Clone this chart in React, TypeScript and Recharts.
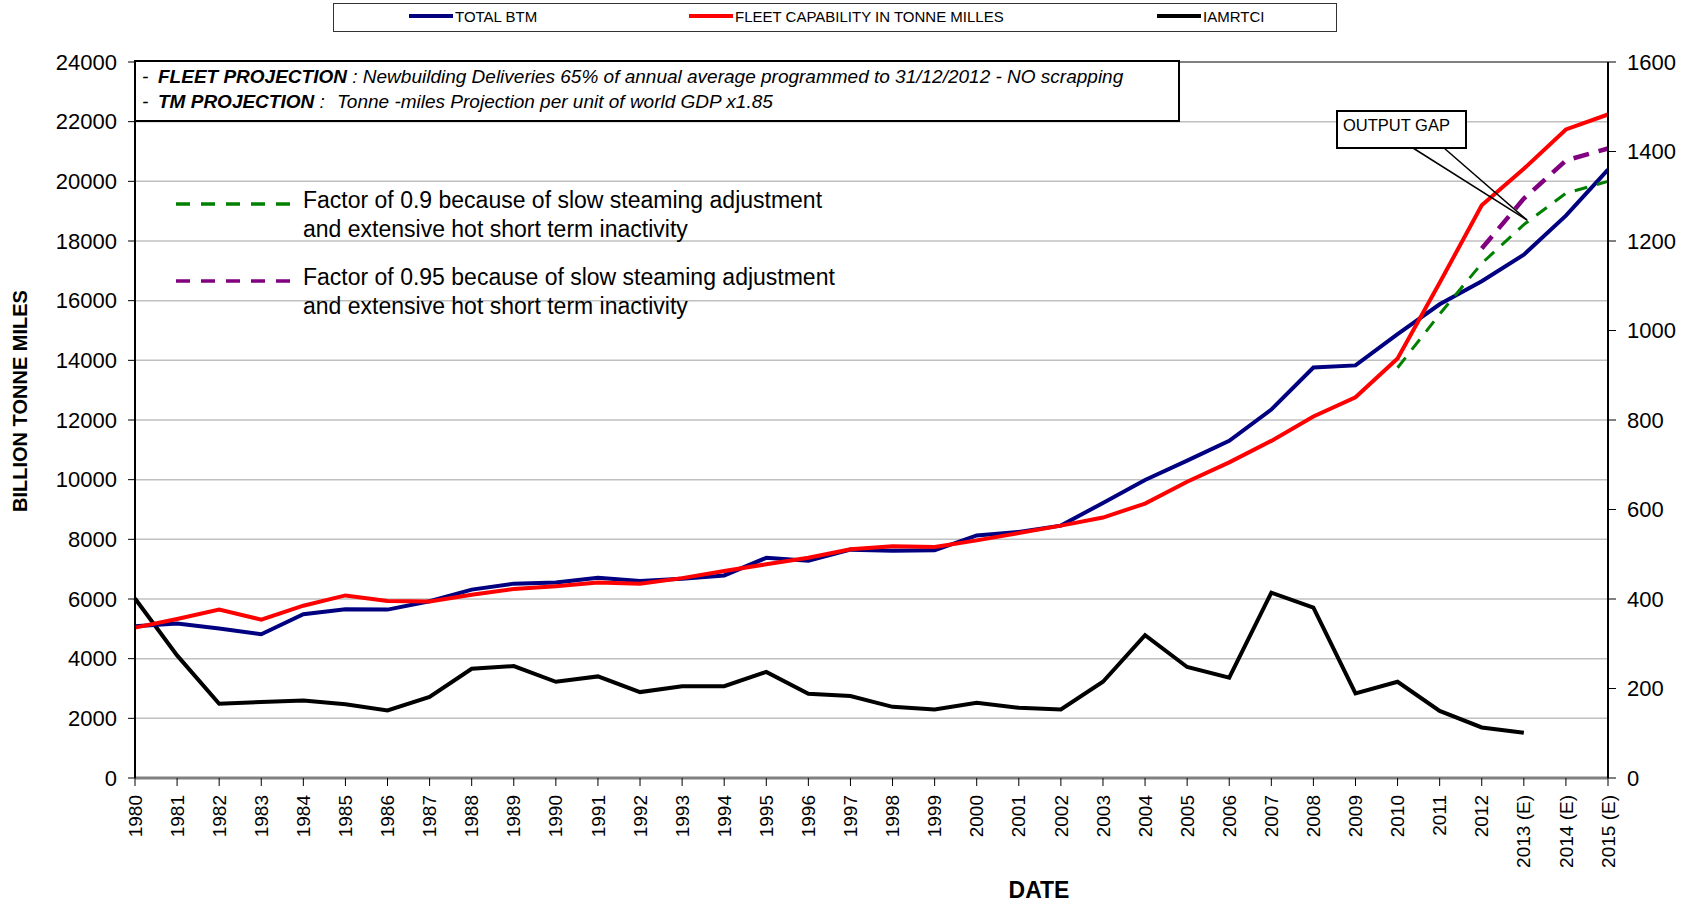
import { LineChart, Line, XAxis, YAxis, CartesianGrid, ReferenceLine } from "recharts";

const FONT = "'Liberation Sans', Arial, sans-serif";

const YEARS = [
  "1980", "1981", "1982", "1983", "1984", "1985", "1986", "1987", "1988", "1989",
  "1990", "1991", "1992", "1993", "1994", "1995", "1996", "1997", "1998", "1999",
  "2000", "2001", "2002", "2003", "2004", "2005", "2006", "2007", "2008", "2009",
  "2010", "2011", "2012", "2013 (E)", "2014 (E)", "2015 (E)",
];

// billion tonne miles (left axis)
const TOTAL_BTM = [
  5090, 5180, 5010, 4820, 5490, 5660, 5645, 5925, 6315, 6515,
  6550, 6715, 6600, 6680, 6790, 7380, 7280, 7655, 7620, 7630,
  8130, 8250, 8460, 9220, 9990, 10640, 11300, 12350, 13760, 13830,
  14880, 15880, 16650, 17540, 18850, 20390,
];

const FLEET_CAPABILITY = [
  5040, 5330, 5645, 5310, 5775, 6120, 5930, 5920, 6145, 6335,
  6425, 6550, 6515, 6700, 6940, 7165, 7385, 7670, 7765, 7740,
  7965, 8210, 8460, 8730, 9200, 9930, 10580, 11300, 12120, 12760,
  14065, 16600, 19195, 20420, 21740, 22240,
];

// index on the right axis
const IAMRTCI = [
  401, 274, 166, 170, 173, 165, 151, 181, 244, 250,
  215, 227, 192, 205, 205, 237, 188, 183, 159, 153,
  168, 157, 153, 215, 319, 248, 224, 414, 381, 189,
  215, 150, 113, 101, null, null,
];

// capability adjusted for slow steaming / hot lay-up
const FACTOR_090 = [
  null, null, null, null, null, null, null, null, null, null,
  null, null, null, null, null, null, null, null, null, null,
  null, null, null, null, null, null, null, null, null, null,
  13750, 15550, 17250, 18550, 19600, 20000,
];

const FACTOR_095 = [
  null, null, null, null, null, null, null, null, null, null,
  null, null, null, null, null, null, null, null, null, null,
  null, null, null, null, null, null, null, null, null, null,
  null, null, 17750, 19420, 20700, 21100,
];

const LEFT_TICKS = [0, 2000, 4000, 6000, 8000, 10000, 12000, 14000, 16000, 18000, 20000, 22000, 24000];
const RIGHT_TICKS = [0, 200, 400, 600, 800, 1000, 1200, 1400, 1600];

const SERIES_NAMES = ["TOTAL BTM", "FLEET CAPABILITY IN TONNE MILLES", "IAMRTCI"];
const SERIES_COLORS = ["#000080", "#ff0000", "#000000"];
const KEY_X = [409, 689, 1157];

const FACTOR_NOTES = [
  ["Factor of 0.9 because of slow steaming adjustment", "and extensive hot short term inactivity"],
  ["Factor of 0.95 because of slow steaming adjustment", "and extensive hot short term inactivity"],
];

const data = YEARS.map((year, i) => ({
  year,
  btm: TOTAL_BTM[i],
  fleet: FLEET_CAPABILITY[i],
  iamrtci: IAMRTCI[i],
  f90: FACTOR_090[i],
  f95: FACTOR_095[i],
}));

function YearTick(props: any) {
  const { x, y, payload } = props;
  return (
    <text
      x={x}
      y={y}
      transform={`rotate(-90, ${x}, ${y})`}
      textAnchor="end"
      dy="0.35em"
      fontSize={19}
      fontFamily={FONT}
      fill="#000"
    >
      {payload.value}
    </text>
  );
}

function Overlay() {
  return (
    <svg
      width={1696}
      height={903}
      style={{ position: "absolute", left: 0, top: 0, pointerEvents: "none" }}
      fontFamily={FONT}
    >
      {/* series key */}
      <rect x={333.5} y={3.5} width={1003} height={28} fill="#fff" stroke="#333" />
      {SERIES_NAMES.map((name, i) => (
        <g key={name}>
          <line x1={KEY_X[i]} x2={KEY_X[i] + 44} y1={16} y2={16} stroke={SERIES_COLORS[i]} strokeWidth={4} />
          <text x={KEY_X[i] + 46} y={21.5} fontSize={15} fill="#000">
            {name}
          </text>
        </g>
      ))}

      {/* projection notes */}
      <rect x={135} y={61} width={1044} height={60} fill="#fff" stroke="#000" strokeWidth={2} />
      <text y={83} fontSize={19} fontStyle="italic" fill="#000">
        <tspan x={142}>-</tspan>
        <tspan x={158} fontWeight="bold">FLEET PROJECTION</tspan>
        <tspan> : Newbuilding Deliveries 65% of annual average programmed to 31/12/2012 - NO scrapping</tspan>
      </text>
      <text y={108} fontSize={19} fontStyle="italic" fill="#000">
        <tspan x={142}>-</tspan>
        <tspan x={158} fontWeight="bold">TM PROJECTION</tspan>
        <tspan> :</tspan>
        <tspan x={337}>Tonne -miles Projection per unit of world GDP x1.85</tspan>
      </text>

      {/* dashed series notes */}
      {FACTOR_NOTES.map((lines, i) => {
        const top = i === 0 ? 208 : 285;
        return (
          <g key={i}>
            <line
              x1={176}
              x2={291}
              y1={top - 4}
              y2={top - 4}
              stroke={i === 0 ? "#008000" : "#800080"}
              strokeWidth={3.5}
              strokeDasharray="14 11"
            />
            <text x={303} y={top} fontSize={23} fill="#000">
              {lines[0]}
            </text>
            <text x={303} y={top + 28.5} fontSize={23} fill="#000">
              {lines[1]}
            </text>
          </g>
        );
      })}

      {/* output gap callout */}
      <line x1={1413} y1={148} x2={1527} y2={220} stroke="#000" strokeWidth={1.5} />
      <line x1={1444} y1={148} x2={1527} y2={220} stroke="#000" strokeWidth={1.5} />
      <rect x={1337} y={111} width={129} height={37} fill="#fff" stroke="#000" strokeWidth={2} />
      <text x={1343} y={131} fontSize={16.5} fill="#000">
        OUTPUT GAP
      </text>

      {/* axis titles */}
      <text
        x={20}
        y={401}
        transform="rotate(-90, 20, 401)"
        textAnchor="middle"
        dy="0.35em"
        fontSize={20}
        fontWeight="bold"
        fill="#000"
      >
        BILLION TONNE MILES
      </text>
      <text x={1039} y={898} textAnchor="middle" fontSize={23} fontWeight="bold" fill="#000">
        DATE
      </text>
    </svg>
  );
}

export default function App() {
  return (
    <div
      style={{
        position: "absolute",
        left: 0,
        top: 0,
        width: 1696,
        height: 903,
        background: "#fff",
        fontFamily: FONT,
      }}
    >
      <LineChart width={1696} height={903} data={data} margin={{ top: 62, right: 0, bottom: 0, left: 0 }}>
        <CartesianGrid yAxisId="left" vertical={false} stroke="#c0c0c0" strokeWidth={1.5} />
        <XAxis
          dataKey="year"
          scale="point"
          padding={{ left: 0, right: 0 }}
          interval={0}
          height={125}
          tick={<YearTick />}
          tickSize={8}
          tickMargin={9}
          tickLine={{ stroke: "#000" }}
          axisLine={{ stroke: "#808080", strokeWidth: 3 }}
        />
        <YAxis
          yAxisId="left"
          width={135}
          domain={[0, 24000]}
          ticks={LEFT_TICKS}
          interval={0}
          tickSize={7}
          tickMargin={11}
          tick={{ fontSize: 22, fill: "#000", fontFamily: FONT }}
          tickLine={{ stroke: "#000" }}
          axisLine={{ stroke: "#000", strokeWidth: 2 }}
        />
        <YAxis
          yAxisId="right"
          orientation="right"
          width={88}
          domain={[0, 1600]}
          ticks={RIGHT_TICKS}
          interval={0}
          tickSize={8}
          tickMargin={11}
          tick={{ fontSize: 22, fill: "#000", fontFamily: FONT }}
          tickLine={{ stroke: "#000" }}
          axisLine={{ stroke: "#000", strokeWidth: 2 }}
        />
        <ReferenceLine yAxisId="left" y={24000} stroke="#808080" strokeWidth={2} />
        <Line
          yAxisId="right"
          dataKey="iamrtci"
          stroke="#000"
          strokeWidth={4}
          dot={false}
          activeDot={false}
          isAnimationActive={false}
        />
        <Line
          yAxisId="left"
          dataKey="btm"
          stroke="#000080"
          strokeWidth={4}
          dot={false}
          activeDot={false}
          isAnimationActive={false}
        />
        <Line
          yAxisId="left"
          dataKey="fleet"
          stroke="#ff0000"
          strokeWidth={4}
          dot={false}
          activeDot={false}
          isAnimationActive={false}
        />
        <Line
          yAxisId="left"
          dataKey="f90"
          stroke="#008000"
          strokeWidth={3}
          strokeDasharray="13 10"
          dot={false}
          activeDot={false}
          isAnimationActive={false}
        />
        <Line
          yAxisId="left"
          dataKey="f95"
          stroke="#800080"
          strokeWidth={4.5}
          strokeDasharray="16 10"
          dot={false}
          activeDot={false}
          isAnimationActive={false}
        />
      </LineChart>
      <Overlay />
    </div>
  );
}
